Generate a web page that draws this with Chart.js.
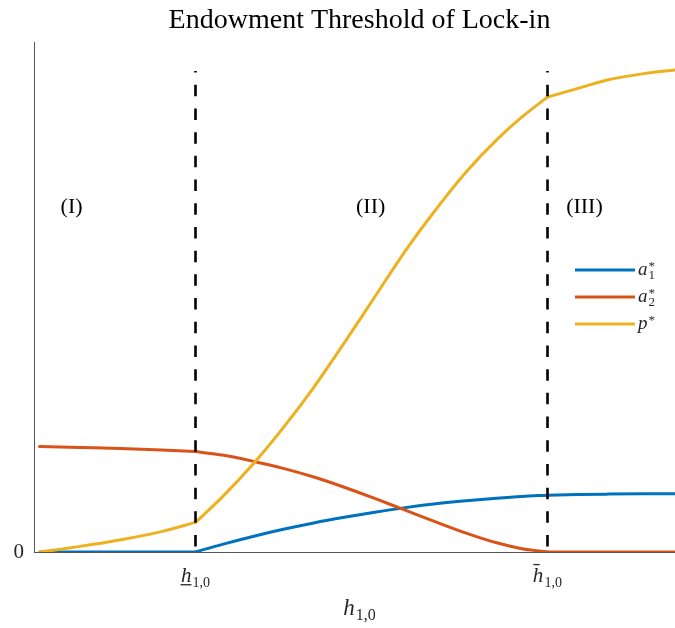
<!DOCTYPE html>
<html>
<head>
<meta charset="utf-8">
<script src="https://cdn.jsdelivr.net/npm/chart.js@4.4.0/dist/chart.umd.min.js"></script>
<style>
  html, body { margin: 0; padding: 0; background: #ffffff; overflow: hidden; }
  #frame { width: 675px; height: 628px; overflow: hidden; position: relative; }
  #plot { position: absolute; left: 0; top: 0; width: 686px; height: 628px; }
</style>
</head>
<body>
<div id="frame"><div id="plot"><canvas id="chart" width="686" height="628"></canvas></div></div>
<script>
// Initial endowment grid h_{1,0}
const hGrid = [0, 0.08, 0.16, 0.24, 0.307, 0.36, 0.42, 0.48, 0.54, 0.60, 0.66, 0.72, 0.78, 0.84, 0.90, 0.95, 1.00, 1.06, 1.12, 1.19, 1.26];

// Equilibrium paths along the grid
const a1Star = [0, 0, 0, 0, 0, 0.015, 0.0305, 0.0445, 0.057, 0.068, 0.078, 0.087, 0.0945, 0.1005, 0.1055, 0.109, 0.1115, 0.1128, 0.1135, 0.114, 0.1143];
const a2Star = [0.207, 0.205, 0.203, 0.200, 0.197, 0.190, 0.178, 0.164, 0.147, 0.127, 0.105, 0.082, 0.059, 0.037, 0.018, 0.0065, 0, 0, 0, 0, 0];
const pStar  = [0, 0.011, 0.024, 0.040, 0.058, 0.108, 0.172, 0.244, 0.323, 0.410, 0.500, 0.590, 0.671, 0.745, 0.808, 0.853, 0.892, 0.909, 0.926, 0.938, 0.946];

// Thresholds separating the regimes
const thresholdValues = [0.307, 1.0];
const thresholdTop = 0.943;
const xTickBase = ['h', 'h'];
const xTickSub = ['1,0', '1,0'];
const xTickAccent = ['under', 'bar'];
const yTickValues = [0];

// Regime labels and where they sit (h, value)
const regionLabels = ['(I)', '(II)', '(III)'];
const regionH = [0.063, 0.652, 1.073];
const regionValue = 0.677;

// Series labels: base symbol, subscript, superscript
const seriesBase = ['a', 'a', 'p'];
const seriesSub = ['1', '2', ''];
const seriesSup = ['*', '*', '*'];
const seriesColors = ['#0072BD', '#D95319', '#EDB120'];

const titleText = 'Endowment Threshold of Lock-in';
const SERIF = "'Liberation Serif', 'Times New Roman', serif";

function drawMath(ctx, x, baseY, m, size, align) {
  const baseFont = `italic ${size}px ${SERIF}`;
  const small = Math.round(size * 0.68);
  const smallFont = `${small}px ${SERIF}`;
  ctx.font = baseFont;
  const wb = ctx.measureText(m.base).width;
  ctx.font = smallFont;
  const wsub = m.sub ? ctx.measureText(m.sub).width : 0;
  const wsup = m.sup ? ctx.measureText(m.sup).width : 0;
  const gap = size * 0.05;
  const total = wb + gap + Math.max(wsub, wsup);
  const x0 = align === 'center' ? x - total / 2 : x;
  ctx.textAlign = 'left';
  ctx.textBaseline = 'alphabetic';
  ctx.font = baseFont;
  ctx.fillText(m.base, x0, baseY);
  ctx.font = smallFont;
  if (m.sub) ctx.fillText(m.sub, x0 + wb + gap, baseY + size * 0.22);
  if (m.sup) ctx.fillText(m.sup, x0 + wb + gap, baseY - size * 0.26);
  if (m.accent === 'under') {
    ctx.fillRect(x0 - 0.5, baseY + size * 0.1, wb + 0.5, 1.3);
  } else if (m.accent === 'bar') {
    ctx.fillRect(x0 + wb * 0.05, baseY - size * 0.86, wb * 0.6, 1.3);
  }
}

const overlay = {
  id: 'overlay',
  afterDatasetsDraw(chart) {
    const { ctx, scales: { x, y } } = chart;
    ctx.save();
    // dashed regime boundaries
    ctx.strokeStyle = '#000000';
    ctx.lineWidth = 2.6;
    ctx.setLineDash([11.5, 12.2]);
    ctx.lineDashOffset = 10;
    thresholdValues.forEach(v => {
      const px = Math.round(x.getPixelForValue(v)) + 0.5;
      ctx.beginPath();
      ctx.moveTo(px, y.getPixelForValue(thresholdTop));
      ctx.lineTo(px, y.getPixelForValue(0));
      ctx.stroke();
    });
    ctx.restore();
  },
  afterDraw(chart) {
    const { ctx, chartArea, scales: { x, y } } = chart;
    ctx.save();
    ctx.fillStyle = '#000000';
    // title
    ctx.font = `28px ${SERIF}`;
    ctx.textAlign = 'center';
    ctx.textBaseline = 'alphabetic';
    ctx.fillText(titleText, (chartArea.left + chartArea.right) / 2, 28);

    // regime labels
    ctx.font = `22px ${SERIF}`;
    ctx.textBaseline = 'middle';
    regionLabels.forEach((t, i) => {
      ctx.fillText(t, x.getPixelForValue(regionH[i]), y.getPixelForValue(regionValue));
    });

    // x tick labels
    ctx.fillStyle = '#262626';
    thresholdValues.forEach((v, i) => {
      drawMath(ctx, x.getPixelForValue(v), 582, { base: xTickBase[i], sub: xTickSub[i], accent: xTickAccent[i] }, 21, 'center');
    });
    // x axis title
    drawMath(ctx, (chartArea.left + chartArea.right) / 2, 615, { base: 'h', sub: '1,0' }, 23, 'center');

    // legend
    const lx0 = 575, lx1 = 635, ly0 = 270, lstep = 27;
    seriesBase.forEach((b, i) => {
      const ly = ly0 + i * lstep;
      ctx.strokeStyle = seriesColors[i];
      ctx.lineWidth = 3;
      ctx.beginPath();
      ctx.moveTo(lx0, ly);
      ctx.lineTo(lx1, ly);
      ctx.stroke();
      ctx.fillStyle = '#262626';
      drawMath(ctx, 638, ly + 5, { base: b, sub: seriesSub[i], sup: seriesSup[i] }, 19, 'left');
    });
    ctx.restore();
  }
};

// Each path is smooth inside a regime and kinks at the thresholds,
// so it is drawn as one piece per regime.
const kinkIdx = thresholdValues.map(v => hGrid.indexOf(v));
const pieces = [[0, kinkIdx[0]], [kinkIdx[0], kinkIdx[1]], [kinkIdx[1], hGrid.length - 1]];
const seriesData = [a1Star, a2Star, pStar];

const datasets = [];
seriesData.forEach((arr, s) => {
  pieces.forEach(([i0, i1]) => {
    const pts = [];
    for (let i = i0; i <= i1; i++) pts.push({ x: hGrid[i], y: arr[i] });
    datasets.push({
      label: seriesBase[s] + seriesSub[s] + seriesSup[s],
      data: pts,
      borderColor: seriesColors[s],
      backgroundColor: seriesColors[s],
      borderWidth: 3,
      pointRadius: 0,
      cubicInterpolationMode: 'monotone',
      fill: false,
      borderJoinStyle: 'round',
      borderCapStyle: 'round',
      order: 3 - s
    });
  });
});

new Chart(document.getElementById('chart'), {
  type: 'line',
  data: { datasets },
  options: {
    responsive: false,
    animation: false,
    devicePixelRatio: 1,
    layout: { padding: { top: 42, right: 1, left: 0, bottom: 0 } },
    plugins: { legend: { display: false }, title: { display: false }, tooltip: { enabled: false } },
    scales: {
      x: {
        type: 'linear',
        min: -0.011,
        max: 1.271,
        grid: { display: false, drawTicks: false },
        border: { display: true, color: '#555555', width: 1 },
        ticks: { display: false },
        afterFit(scale) { scale.height = 76; }
      },
      y: {
        type: 'linear',
        min: 0,
        max: 1,
        grid: { display: false, drawTicks: false },
        border: { display: true, color: '#555555', width: 1 },
        afterBuildTicks(scale) { scale.ticks = yTickValues.map(v => ({ value: v })); },
        ticks: {
          padding: 10,
          color: '#262626',
          font: { family: SERIF, size: 21 },
          callback: v => String(v)
        },
        afterFit(scale) { scale.width = 34; }
      }
    }
  },
  plugins: [overlay]
});
</script>
</body>
</html>
